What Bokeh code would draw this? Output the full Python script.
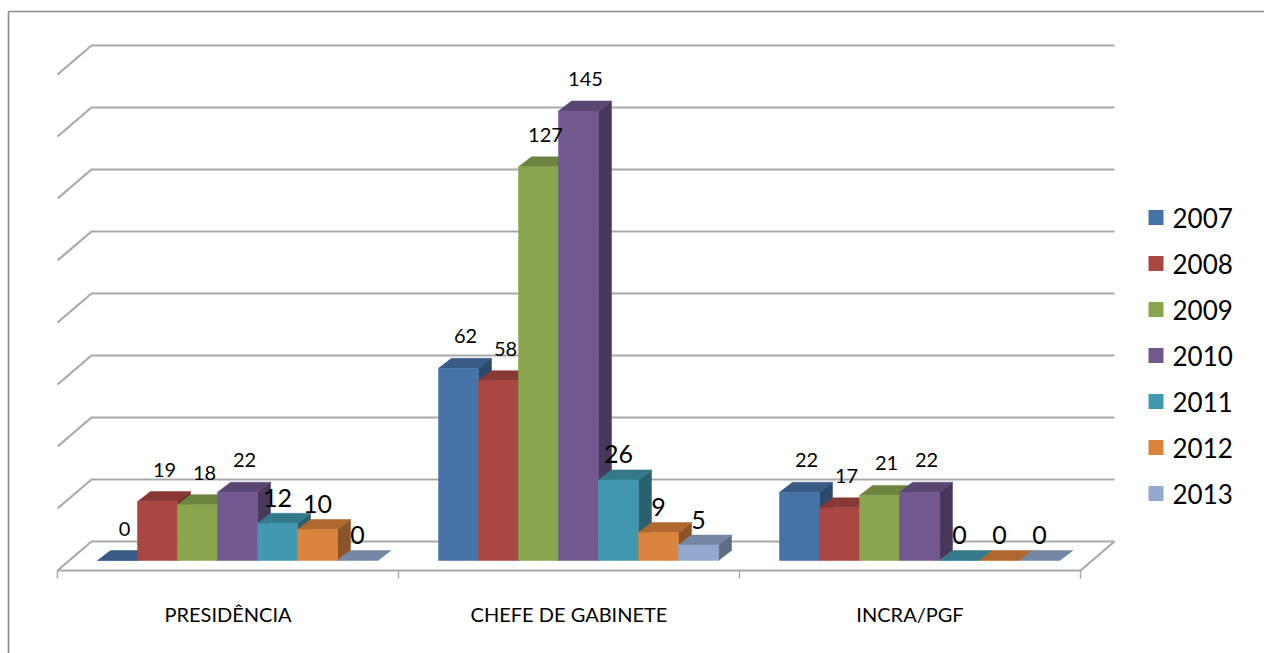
import numpy as np
from bokeh.plotting import figure
from bokeh.models import Range1d, ColumnDataSource
from bokeh.embed import file_html
from bokeh.resources import INLINE
from bokeh.core.properties import value

# ---------------- data ----------------
categories = ["PRESIDÊNCIA", "CHEFE DE GABINETE", "INCRA/PGF"]
years = ["2007", "2008", "2009", "2010", "2011", "2012", "2013"]
v2007 = [0, 62, 22]
v2008 = [19, 58, 17]
v2009 = [18, 127, 21]
v2010 = [22, 145, 22]
v2011 = [12, 26, 0]
v2012 = [10, 9, 0]
v2013 = [0, 5, 0]
series = [v2007, v2008, v2009, v2010, v2011, v2012, v2013]
grid_values = [0, 20, 40, 60, 80, 100, 120, 140, 160]

front_colors = ["#4572A7", "#AA4643", "#89A54E", "#71588F", "#4198AF", "#DB843D", "#93A9CF"]

FONT = "Lato"

# ---------------- geometry (screen <-> data) ----------------
W, H = 1264, 653
PX_X = 341.0      # pixels per category
PX_Y = 3.1        # pixels per value unit
X0_PX = 227.5     # pixel x of first category centre (floor front)
Y0_PX = 560.0     # pixel y of value 0 at bar front


def px2x(px):
    return (px - X0_PX) / PX_X


def px2v(py):
    return (Y0_PX - py) / PX_Y


def shade(hexcol, f):
    h = hexcol.lstrip("#")
    r, g, b = (int(h[i:i + 2], 16) for i in (0, 2, 4))
    return "#%02x%02x%02x" % (int(r * f), int(g * f), int(b * f))


top_colors = [shade(c, 0.80) for c in front_colors]
side_colors = [shade(c, 0.64) for c in front_colors]

p = figure(width=W, height=H, output_backend="svg", toolbar_location=None,
           x_range=Range1d(px2x(0), px2x(W)), y_range=Range1d(px2v(H), px2v(0)),
           min_border=0, outline_line_color=None)
p.axis.visible = False
p.grid.visible = False
p.background_fill_color = "white"
p.border_fill_color = "white"

# outer chart border (only top and left visible)
p.multi_line(xs=[[px2x(8), px2x(8)], [px2x(8), px2x(W + 10)]],
             ys=[[px2v(H + 10), px2v(11)], [px2v(11), px2v(11)]],
             line_color="#8a8a8a", line_width=1.6)

# ---------------- walls / floor ----------------
floor_front = px2v(570)
floor_back = px2v(541)
fdx = 34.0 / PX_X
fdy = floor_back - floor_front
left_front = -0.5
right_front = len(categories) - 0.5

gx, gy = [], []
for g in grid_values:
    yb = floor_back + g
    gx.append([left_front, left_front + fdx, right_front + fdx])
    gy.append([yb - fdy, yb, yb])
# floor front edge and right side
gx.append([left_front, right_front, right_front + fdx])
gy.append([floor_front, floor_front, floor_back])
p.multi_line(xs=gx, ys=gy, line_color="#a9a9a9", line_width=2.2)

# category tick marks
ticks = [i - 0.5 for i in range(len(categories) + 1)]
p.multi_line(xs=[[t, t] for t in ticks],
             ys=[[floor_front, px2v(578)] for _ in ticks],
             line_color="#a9a9a9", line_width=1.5)

# category labels
p.text(x=list(range(len(categories))), y=[px2v(613)] * len(categories), text=categories,
       text_align="center", text_baseline="middle", text_color="#000000",
       text_font=value(FONT), text_font_size="20px")

# ---------------- 3D bars ----------------
bar_w = 40.0 / PX_X
group_left = (97.0 - X0_PX) / PX_X
dxb = 13.0 / PX_X
dyb = 10.0 / PX_Y

for j, vals in enumerate(series):
    lefts = [i + group_left + j * bar_w for i in range(len(categories))]
    sx, sy, tx, ty = [], [], [], []
    for l, v in zip(lefts, vals):
        r = l + bar_w
        sx.append([r, r + dxb, r + dxb, r])
        sy.append([0, dyb, v + dyb, v])
        tx.append([l, l + dxb, r + dxb, r])
        ty.append([v, v + dyb, v + dyb, v])
    p.patches(xs=sx, ys=sy, fill_color=side_colors[j], line_color=side_colors[j], line_width=0.5)
    p.patches(xs=tx, ys=ty, fill_color=top_colors[j], line_color=top_colors[j], line_width=0.5)
    p.quad(left=lefts, right=[l + bar_w for l in lefts], bottom=[0] * len(vals), top=vals,
           fill_color=front_colors[j], line_color=front_colors[j], line_width=0.5)

# ---------------- data labels ----------------
for j, vals in enumerate(series):
    big = j >= 4
    lefts = [i + group_left + j * bar_w for i in range(len(categories))]
    src = ColumnDataSource(dict(
        x=[l + bar_w / 2 + (0 if big else 7.0 / PX_X) for l in lefts],
        y=[v + dyb for v in vals],
        t=[str(v) for v in vals]))
    p.text(x="x", y="y", text="t", source=src, text_align="center", text_baseline="middle",
           y_offset=-15.5 if big else -22, text_color="#000000",
           text_font=value(FONT),
           text_font_size="25px" if big else "20px")

# ---------------- legend ----------------
leg_y = [px2v(217 + 46 * j) for j in range(len(years))]
p.rect(x=[px2x(1155.5)] * len(years), y=leg_y, width=15, height=15,
       width_units="screen", height_units="screen",
       fill_color=front_colors, line_color=None)
p.text(x=[px2x(1172)] * len(years), y=leg_y, text=years, text_align="left",
       text_baseline="middle", text_color="#000000",
       text_font=value(FONT), text_font_size="26px")

open("out.html", "w").write(file_html(p, INLINE))
